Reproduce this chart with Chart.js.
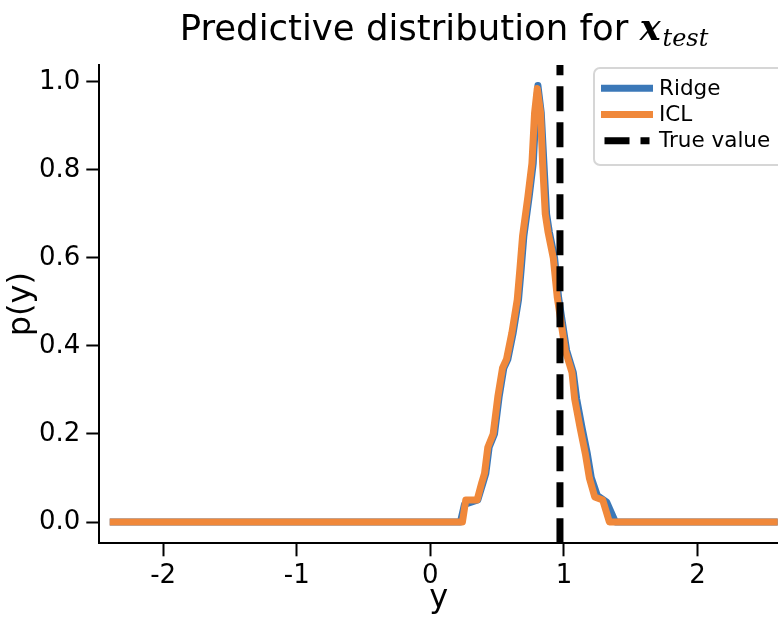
<!DOCTYPE html>
<html>
<head>
<meta charset="utf-8">
<title>Predictive distribution for x_test</title>
<script src="https://cdn.jsdelivr.net/npm/chart.js@4.4.1/dist/chart.umd.min.js"></script>
<style>
  html, body { margin: 0; padding: 0; background: #fff; }
  #wrap { width: 778px; height: 618px; }
</style>
</head>
<body>
<div id="wrap"><canvas id="predChart" width="778" height="618"></canvas></div>
<script>
// Values
const ridgeY = [-2.40, 0.225, 0.255, 0.355, 0.395, 0.415, 0.44, 0.48, 0.515, 0.55, 0.58, 0.62, 0.66, 0.68, 0.70, 0.74, 0.77, 0.79, 0.805, 0.83, 0.85, 0.87, 0.89, 0.93, 0.96, 0.995, 1.02, 1.07, 1.095, 1.135, 1.175, 1.205, 1.25, 1.32, 1.385, 2.60];
const ridgeP = [0, 0, 0.04, 0.05, 0.09, 0.11, 0.17, 0.20, 0.285, 0.35, 0.37, 0.43, 0.505, 0.575, 0.65, 0.74, 0.815, 0.93, 0.992, 0.93, 0.815, 0.70, 0.66, 0.60, 0.51, 0.44, 0.39, 0.34, 0.28, 0.215, 0.155, 0.10, 0.06, 0.045, 0, 0];
const iclY = [-2.40, 0.24, 0.265, 0.35, 0.385, 0.405, 0.43, 0.47, 0.505, 0.54, 0.57, 0.61, 0.65, 0.67, 0.69, 0.73, 0.76, 0.78, 0.80, 0.825, 0.84, 0.86, 0.88, 0.92, 0.95, 0.985, 1.01, 1.06, 1.08, 1.12, 1.16, 1.19, 1.23, 1.29, 1.34, 2.60];
const iclP = [0, 0, 0.05, 0.05, 0.09, 0.11, 0.17, 0.20, 0.285, 0.35, 0.37, 0.43, 0.505, 0.575, 0.65, 0.74, 0.815, 0.93, 0.985, 0.93, 0.815, 0.70, 0.66, 0.60, 0.51, 0.44, 0.39, 0.34, 0.28, 0.215, 0.155, 0.10, 0.057, 0.05, 0, 0];
const trueValue = 0.97;
const seriesLabels = ['Ridge', 'ICL', 'True value'];
const xTicks = [-2, -1, 0, 1, 2];
const yTicks = [0, 0.2, 0.4, 0.6, 0.8, 1.0];

// axis limits
const xMin = -2.478, xMax = 2.602;
const yMin = -0.0484, yMax = 1.0386;

Chart.defaults.font.family = '"DejaVu Sans", sans-serif';
Chart.defaults.color = '#000';

const toPoints = (xs, ps) => xs.map((v, i) => ({ x: v, y: ps[i] }));

// title with math part: x (bold italic) with subscript "test"
const titlePlugin = {
    id: 'mathTitle',
    afterDraw(chart) {
        const ctx = chart.ctx;
        const main = 'Predictive distribution for ';
        ctx.save();
        ctx.textBaseline = 'alphabetic';
        ctx.fillStyle = '#000';
        ctx.font = '35.5px "DejaVu Sans"';
        const w1 = ctx.measureText(main).width;
        ctx.font = 'italic bold 35px "DejaVu Serif"';
        const w2 = ctx.measureText('x').width;
        ctx.font = 'italic 24px "DejaVu Serif"';
        const w3 = ctx.measureText('test').width;
        const left = 444 - (w1 + w2 + 2 + w3) / 2;
        ctx.font = '35.5px "DejaVu Sans"';
        ctx.fillText(main, left, 40);
        ctx.font = 'italic bold 35px "DejaVu Serif"';
        ctx.fillText('x', left + w1, 40);
        ctx.font = 'italic 24px "DejaVu Serif"';
        ctx.fillText('test', left + w1 + w2 + 2, 46);
        ctx.restore();
    }
};

// framed legend inside the plot, top right
const boxLegend = {
    id: 'boxLegend',
    afterDatasetsDraw(chart) {
        const ctx = chart.ctx;
        ctx.save();
        ctx.beginPath();
        ctx.roundRect(594, 68, 220, 97, 6);
        ctx.fillStyle = 'rgba(255,255,255,0.8)';
        ctx.fill();
        ctx.lineWidth = 2;
        ctx.strokeStyle = '#d6d6d6';
        ctx.stroke();
        chart.data.datasets.forEach((ds, i) => {
            const y = 88.3 + i * 26.2;
            ctx.beginPath();
            ctx.setLineDash(ds.borderDash || []);
            ctx.lineCap = ds.borderDash ? 'butt' : 'square';
            ctx.lineWidth = ds.borderWidth;
            ctx.strokeStyle = ds.borderColor;
            ctx.moveTo(604.5, y);
            ctx.lineTo(649.5, y);
            ctx.stroke();
            ctx.setLineDash([]);
            ctx.fillStyle = '#000';
            ctx.font = '21.5px "DejaVu Sans"';
            ctx.textBaseline = 'middle';
            ctx.fillText(ds.label, 659, y + 1);
        });
        ctx.restore();
    }
};

new Chart(document.getElementById('predChart'), {
    type: 'line',
    data: {
        datasets: [
            {
                label: seriesLabels[0],
                data: toPoints(ridgeY, ridgeP),
                borderColor: '#3b78b8',
                borderWidth: 7,
                borderJoinStyle: 'round',
                pointRadius: 0,
                tension: 0,
                order: 3
            },
            {
                label: seriesLabels[1],
                data: toPoints(iclY, iclP),
                borderColor: '#f0883a',
                borderWidth: 7,
                borderJoinStyle: 'round',
                pointRadius: 0,
                tension: 0,
                order: 2
            },
            {
                label: seriesLabels[2],
                data: [{ x: trueValue, y: yMin }, { x: trueValue, y: yMax }],
                borderColor: '#000',
                borderWidth: 7,
                borderDash: [25, 11],
                pointRadius: 0,
                order: 1
            }
        ]
    },
    options: {
        responsive: false,
        devicePixelRatio: 1,
        animation: false,
        events: [],
        layout: { padding: { top: 65, left: 0, right: 0, bottom: 0 } },
        plugins: {
            legend: { display: false },
            tooltip: { enabled: false },
            title: { display: false }
        },
        scales: {
            x: {
                type: 'linear',
                min: xMin,
                max: xMax,
                afterBuildTicks: s => { s.ticks = xTicks.map(v => ({ value: v })); },
                afterFit: s => { s.height = 74.7; },
                border: { display: true, color: '#000', width: 2 },
                grid: { drawOnChartArea: false, drawTicks: true, tickLength: 13, tickWidth: 2, tickColor: '#000' },
                ticks: { color: '#000', font: { size: 26 }, padding: 4, maxRotation: 0, autoSkip: false, callback: v => String(v) },
                title: { display: true, text: 'y', color: '#000', font: { size: 32 }, padding: { top: 0, bottom: 0 } }
            },
            y: {
                type: 'linear',
                min: yMin,
                max: yMax,
                afterBuildTicks: s => { s.ticks = yTicks.map(v => ({ value: v })); },
                afterFit: s => { s.width = 99.3; },
                border: { display: true, color: '#000', width: 2 },
                grid: { drawOnChartArea: false, drawTicks: true, tickLength: 13, tickWidth: 2, tickColor: '#000' },
                ticks: { color: '#000', font: { size: 26 }, padding: 6, autoSkip: false, callback: v => v.toFixed(1) },
                title: { display: true, text: 'p(y)', color: '#000', font: { size: 32 }, padding: { top: 2, bottom: 0 } }
            }
        }
    },
    plugins: [boxLegend, titlePlugin]
});
</script>
</body>
</html>
